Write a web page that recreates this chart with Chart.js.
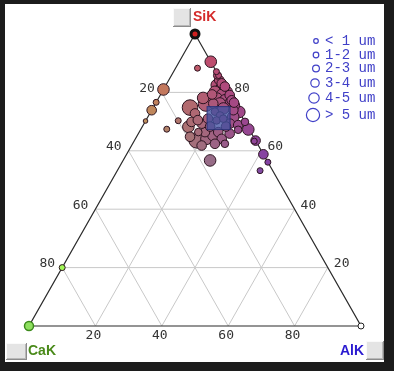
<!DOCTYPE html>
<html>
<head>
<meta charset="utf-8">
<script src="https://cdn.jsdelivr.net/npm/chart.js@4.4.1/dist/chart.umd.min.js"></script>
<style>
    html, body { margin: 0; padding: 0; background: #1c1c1c; }
    #frame { position: absolute; left: 5px; top: 4px; width: 379px; height: 358px; background: #fff; }
    #wrap { position: absolute; left: 0; top: 0; width: 394px; height: 371px; }
</style>
</head>
<body>
<div id="frame"></div>
<div id="wrap"><canvas id="ternary"></canvas></div>
<script>
// particle compositions (%)
const siK = [90.5, 88.3, 85.8, 87.1, 85.8, 84.2, 83.1, 82.5, 82.0, 80.8, 80.2, 80.2, 79.1, 79.1, 77.9, 77.3, 77.3,
    75.6, 75.6, 76.2, 76.2, 74.5, 73.9, 73.3, 76.2, 74.8, 72.8, 69.9, 68.2, 63.6, 66.4, 64.1, 61.8, 65.3, 66.4,
    64.1, 62.4, 62.4, 65.9, 69.3, 71.6, 76.5, 69.3, 66.4, 69.9, 67.3, 63.5, 58.8, 56.1, 53.2, 56.7, 81.0, 76.6,
    73.9, 70.2, 70.3, 67.4, 20.0, 73.4, 72.1, 70.4, 71.0, 71.0, 68.3, 68.3, 67.2, 79.3, 63.3,
    78.1, 70.5, 64.8, 68.8];
const alK = [9.5, 6.6, 14.2, 12.9, 13.8, 15.2, 16.5, 15.3, 18.0, 17.1, 15.9, 19.4, 20.9, 18.5, 17.6, 20.4, 22.4,
    24.2, 22.2, 19.4, 17.4, 21.3, 24.6, 26.7, 15.2, 11.1, 13.6, 14.0, 13.9, 18.7, 19.8, 21.4, 21.1, 22.9, 23.8,
    26.0, 24.8, 27.8, 27.5, 25.9, 25.7, 23.5, 17.4, 17.8, 30.1, 32.4, 36.5, 41.2, 43.9, 43.0, 26.2, 0, 0,
    0, 0, 9.8, 7.8, 0, 19.3, 21.5, 21.3, 23.0, 18.4, 20.4, 25.2, 29.4, 15.5, 36.2,
    13.4, 15.6, 16.1, 28.6];
const caK = [0, 5.1, 0, 0, 0.4, 0.6, 0.4, 2.2, 0, 2.1, 3.9, 0.4, 0, 2.4, 4.5, 2.3, 0.3,
    0.2, 2.2, 4.4, 6.4, 4.2, 1.5, 0, 8.6, 14.1, 13.6, 16.1, 17.9, 17.7, 13.8, 14.5, 17.1, 11.8, 9.8,
    9.9, 12.8, 9.8, 6.6, 4.8, 2.7, 0, 13.3, 15.8, 0, 0.3, 0, 0, 0, 3.8, 17.1, 19.0, 23.4,
    26.1, 29.8, 19.9, 24.8, 80.0, 7.3, 6.4, 8.3, 6.0, 10.6, 11.3, 6.5, 3.4, 5.2, 0.5,
    8.5, 13.9, 19.1, 2.6];
const sizeUm = [4.5, 1.5, 1.5, 1.5, 2.5, 3.5, 3.5, 4.5, 3.5, 4.5, 4.5, 4.5, 3.5, 4.5, 4.5, 4.5, 3.5,
    3.5, 4.5, 4.5, 3.5, 4.5, 3.5, 4.5, 6, 6, 3.5, 3.5, 4.5, 6, 3.5, 4.5, 3.5, 4.5, 3.5,
    3.5, 3.5, 2.5, 3.5, 3.5, 4.5, 3.5, 3.5, 2.5, 2.5, 4.5, 3.5, 3.5, 1.5, 1.5, 4.5, 4.5, 1.5,
    3.5, 0.5, 1.5, 1.5, 1.5, 2.5, 2.5, 2.5, 2.5, 3.5, 3.5, 3.5, 2.5, 3.5, 1.5,
    4.5, 3.5, 3.5, 3.5];

// pure end-member corners: SiK, CaK, AlK
const cornerSiK = [100, 0, 0];
const cornerAlK = [0, 0, 100];

const gridSteps = [20, 40, 60, 80];
const sizeLabels = ['< 1 um', '1-2 um', '2-3 um', '3-4 um', '4-5 um', '> 5 um'];
const pointRadius = [2.3, 3, 3.8, 4.8, 5.8, 7.8];
const legendRadius = [2.3, 2.8, 3.4, 4.2, 5.2, 6.6];

const H = Math.sqrt(3) / 2;
const toXY = (s, a) => ({ x: a + s / 2, y: s * H });
const sizeClass = (um) => Math.min(5, Math.floor(um));

function mixColor(s, a, c) {
    s /= 100; a /= 100; c /= 100;
    const si = [205, 80, 95], al = [36, 49, 254], ca = [150, 290, 85];
    const rgb = si.map((v, i) => Math.round(Math.max(0, Math.min(255, v + a * (al[i] - v) + c * (ca[i] - v)))));
    return `rgb(${rgb.join(',')})`;
}

// biggest particles first so small ones stay visible
const order = siK.map((_, i) => i).sort((p, q) => sizeUm[q] - sizeUm[p]);
const particles = order.map((i) => toXY(siK[i], alK[i]));
const colors = order.map((i) => mixColor(siK[i], alK[i], caK[i]));
const radii = order.map((i) => pointRadius[sizeClass(sizeUm[i])]);

const highlight = { siK: 71.2, alK: 21.5 };

function pt(chart, s, a) {
    const p = toXY(s, a);
    return [chart.scales.x.getPixelForValue(p.x), chart.scales.y.getPixelForValue(p.y)];
}

function seg(ctx, p, q) {
    ctx.beginPath();
    ctx.moveTo(p[0], p[1]);
    ctx.lineTo(q[0], q[1]);
    ctx.stroke();
}

function button(ctx, x, y, w, h) {
    ctx.fillStyle = '#e4e4e4';
    ctx.fillRect(x, y, w, h);
    ctx.fillStyle = '#fafafa';
    ctx.fillRect(x, y, w, 1);
    ctx.fillRect(x, y, 1, h);
    ctx.fillStyle = '#8c8c8c';
    ctx.fillRect(x, y + h - 1, w, 1);
    ctx.fillRect(x + w - 1, y, 1, h);
    ctx.fillStyle = '#b8b8b8';
    ctx.fillRect(x + 1, y + h - 2, w - 2, 1);
    ctx.fillRect(x + w - 2, y + 1, 1, h - 2);
}

const ternaryPlugin = {
    id: 'ternary',
    beforeDatasetsDraw(chart) {
        const ctx = chart.ctx;
        ctx.save();
        ctx.strokeStyle = '#c8c8c8';
        ctx.lineWidth = 1;
        gridSteps.forEach((k) => {
            seg(ctx, pt(chart, k, 0), pt(chart, k, 100 - k));
            seg(ctx, pt(chart, 100 - k, 0), pt(chart, 0, 100 - k));
            seg(ctx, pt(chart, 100 - k, k), pt(chart, 0, k));
        });
        ctx.strokeStyle = '#2b2b2b';
        ctx.lineWidth = 1.2;
        ctx.beginPath();
        [[100, 0], [0, 0], [0, 100], [100, 0]].forEach(([s, a], i) => {
            const p = pt(chart, s, a);
            if (i === 0) ctx.moveTo(p[0], p[1]); else ctx.lineTo(p[0], p[1]);
        });
        ctx.stroke();
        ctx.restore();
    },
    afterDatasetsDraw(chart) {
        const ctx = chart.ctx;
        ctx.save();

        // selection box
        const c = pt(chart, highlight.siK, highlight.alK);
        ctx.fillStyle = 'rgba(66, 82, 160, 0.78)';
        ctx.strokeStyle = 'rgba(40, 50, 120, 0.9)';
        ctx.lineWidth = 1;
        ctx.fillRect(c[0] - 11.5, c[1] - 11.5, 23, 23);
        ctx.strokeRect(c[0] - 11.5, c[1] - 11.5, 23, 23);

        // tick labels
        ctx.fillStyle = '#333';
        ctx.font = '13px "DejaVu Sans Mono"';
        ctx.textBaseline = 'middle';
        gridSteps.forEach((k) => {
            let p = pt(chart, 100 - k, 0);
            ctx.textAlign = 'right';
            ctx.fillText(String(k), p[0] - 7, p[1] - 4);
            p = pt(chart, k, 100 - k);
            ctx.textAlign = 'left';
            ctx.fillText(String(k), p[0] + 6, p[1] - 4);
            p = pt(chart, 0, k);
            ctx.textAlign = 'center';
            ctx.fillText(String(k), p[0] - 2, p[1] + 10);
        });

        // size legend
        const rowsY = [41, 55, 68.5, 83, 98, 115];
        const dotX = [316, 316, 316, 315, 314, 313];
        ctx.strokeStyle = '#4040c8';
        ctx.fillStyle = '#4040c8';
        ctx.lineWidth = 1.2;
        ctx.font = '14px "Liberation Mono"';
        ctx.textAlign = 'left';
        sizeLabels.forEach((label, i) => {
            ctx.beginPath();
            ctx.arc(dotX[i], rowsY[i], legendRadius[i], 0, Math.PI * 2);
            ctx.stroke();
            ctx.fillText(label, 325, rowsY[i]);
        });

        // corner titles and buttons
        button(ctx, 173, 8, 18, 19);
        button(ctx, 6, 343, 21, 17);
        button(ctx, 366, 341, 18, 19);
        ctx.font = 'bold 14px "Liberation Sans"';
        ctx.fillStyle = '#d42a2a';
        ctx.textAlign = 'left';
        ctx.fillText('SiK', 193, 17);
        ctx.fillStyle = '#4a8a1a';
        ctx.fillText('CaK', 28, 351);
        ctx.fillStyle = '#2a1ad0';
        ctx.textAlign = 'right';
        ctx.fillText('AlK', 364, 351);
        ctx.restore();
    },
};

new Chart(document.getElementById('ternary'), {
    type: 'scatter',
    data: {
        datasets: [
            {
                label: 'particles',
                data: particles,
                backgroundColor: colors,
                borderColor: '#2c1420',
                borderWidth: 1,
                pointRadius: radii,
                clip: false,
            },
            {
                label: 'corners',
                data: cornerSiK.map((s, i) => toXY(s, cornerAlK[i])),
                backgroundColor: ['#d02020', '#8fe060', '#ffffff'],
                borderColor: ['#111111', '#3c8a1c', '#222222'],
                borderWidth: [3, 1.5, 1],
                pointRadius: [4, 4.5, 3],
                clip: false,
            },
        ],
    },
    options: {
        responsive: true,
        maintainAspectRatio: false,
        animation: false,
        events: [],
        layout: { padding: { left: 29, right: 33, top: 34, bottom: 45 } },
        scales: {
            x: { type: 'linear', min: 0, max: 100, display: false },
            y: { type: 'linear', min: 0, max: 100 * H, display: false },
        },
        plugins: { legend: { display: false }, tooltip: { enabled: false } },
    },
    plugins: [ternaryPlugin],
});
</script>
</body>
</html>
